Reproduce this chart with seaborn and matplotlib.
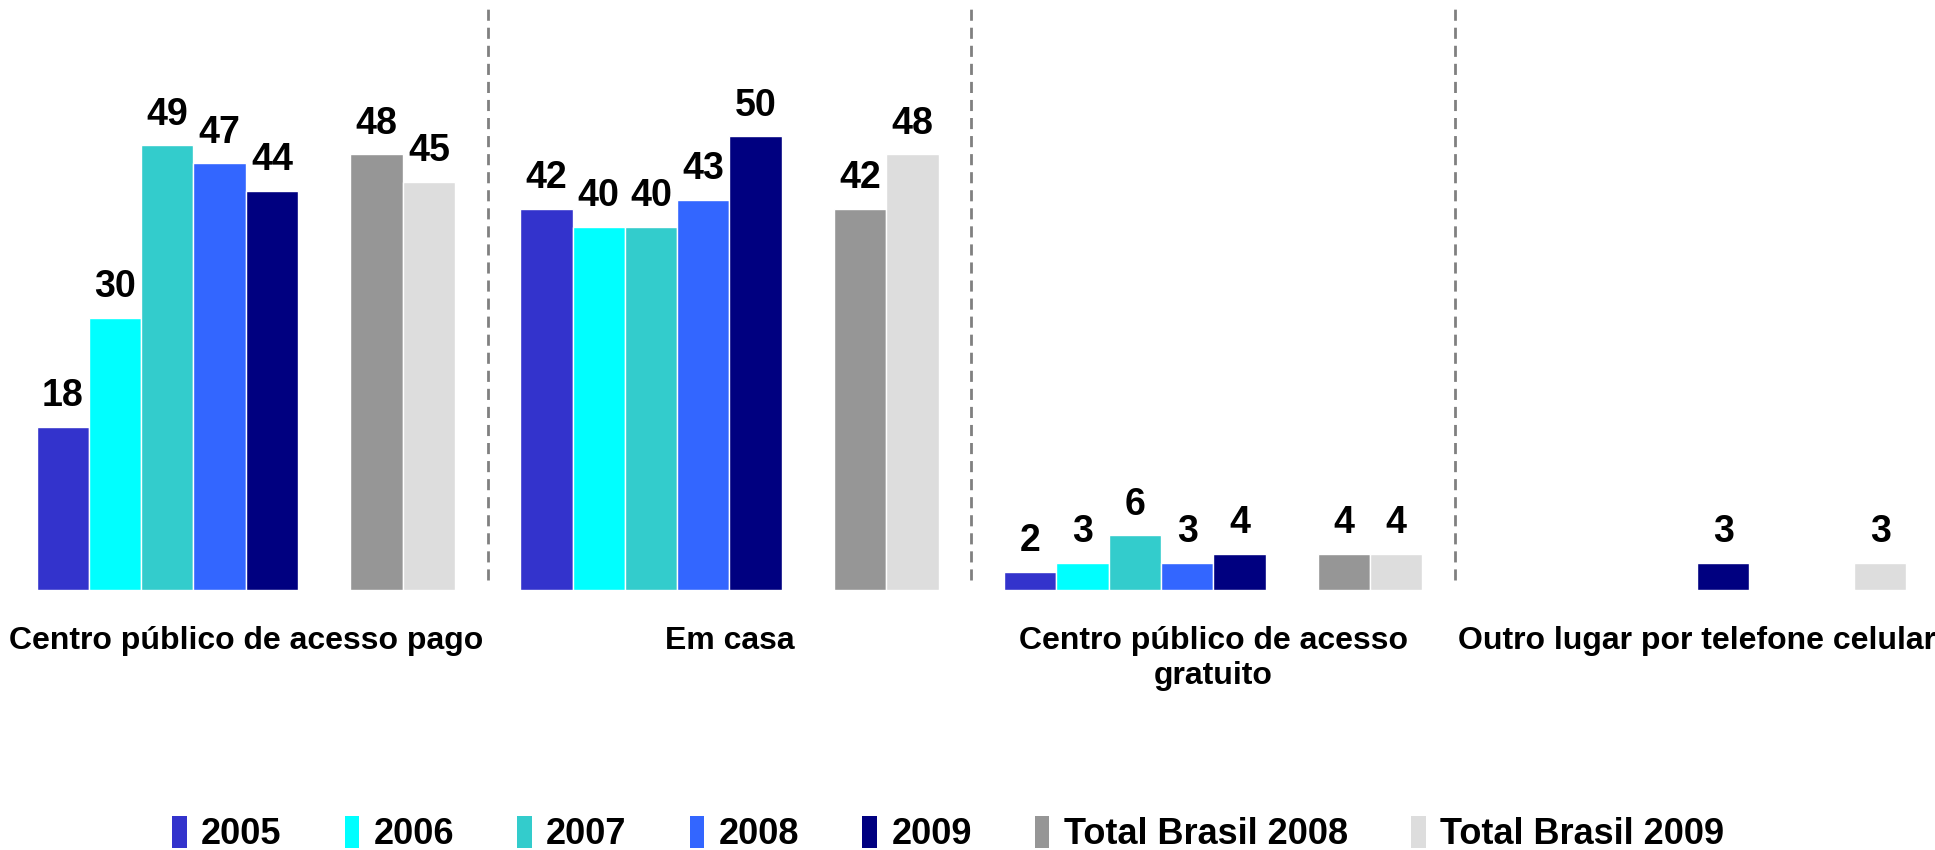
import numpy as np
import pandas as pd
import seaborn as sns
import matplotlib.pyplot as plt
from matplotlib.patches import Patch

# categories and series values (percent)
categories = ['Centro público de acesso pago', 'Em casa',
              'Centro público de acesso\ngratuito', 'Outro lugar por telefone celular']
series = ['2005', '2006', '2007', '2008', '2009', 'Total Brasil 2008', 'Total Brasil 2009']
v2005 = [18, 42, 2, np.nan]
v2006 = [30, 40, 3, np.nan]
v2007 = [49, 40, 6, np.nan]
v2008 = [47, 43, 3, np.nan]
v2009 = [44, 50, 4, 3]
total2008 = [48, 42, 4, np.nan]
total2009 = [45, 48, 4, 3]
colors = ['#3333CC', '#00FFFF', '#33CCCC', '#3366FF', '#000080', '#969696', '#DDDDDD']

values = [v2005, v2006, v2007, v2008, v2009, total2008, total2009]
rows = []
for s, vals in zip(series, values):
    for c, v in zip(categories, vals):
        rows.append({'categoria': c, 'serie': s, 'valor': v})
df = pd.DataFrame(rows).dropna()

# empty slot between the yearly bars and the Brazil totals
gap = ' '
hue_order = series[:5] + [gap] + series[5:]
palette = dict(zip(series, colors))
palette[gap] = '#FFFFFF'

sns.set_style('white')
plt.rcParams['font.family'] = ['Liberation Sans', 'DejaVu Sans']
plt.rcParams['font.weight'] = 'bold'
plt.rcParams['text.color'] = 'black'
plt.rcParams['xtick.color'] = 'black'

fig = plt.figure(figsize=(19.35, 8.5), dpi=100)
ax = fig.add_axes([0.002, 0.306, 1, 0.694])

sns.barplot(data=df, x='categoria', y='valor', hue='serie', order=categories,
            hue_order=hue_order, palette=palette, width=0.865, saturation=1,
            edgecolor='white', linewidth=1, ax=ax, legend=False)

for cont in ax.containers:
    ax.bar_label(cont, fmt='%.0f', padding=9, fontsize=27, fontweight='bold', color='black')

ax.set_xlim(-0.5, 3.5)
ax.set_ylim(0, 65)
for xs in [0.5, 1.5, 2.5]:
    ax.axvline(xs, ymin=0.017, ymax=0.985, color='#808080', linestyle=(0, (4, 2.5)), linewidth=2)

sns.despine(ax=ax, left=True, bottom=True)
ax.set_yticks([])
ax.set_xlabel('')
ax.set_ylabel('')
ax.tick_params(axis='x', length=0, pad=26, labelsize=23)
for lab in ax.get_xticklabels():
    lab.set_fontweight('bold')
    lab.set_linespacing(1.2)
    lab.set_verticalalignment('top')

handles = [Patch(facecolor=palette[s], edgecolor='none') for s in series]
fig.legend(handles, series, loc='center', bbox_to_anchor=(0.49, 0.019), ncol=7,
           frameon=False, handlelength=0.4, handleheight=1.0,
           handletextpad=0.4, columnspacing=1.75, prop={'weight': 'bold', 'size': 26})

fig.savefig('out.png', dpi=100)
